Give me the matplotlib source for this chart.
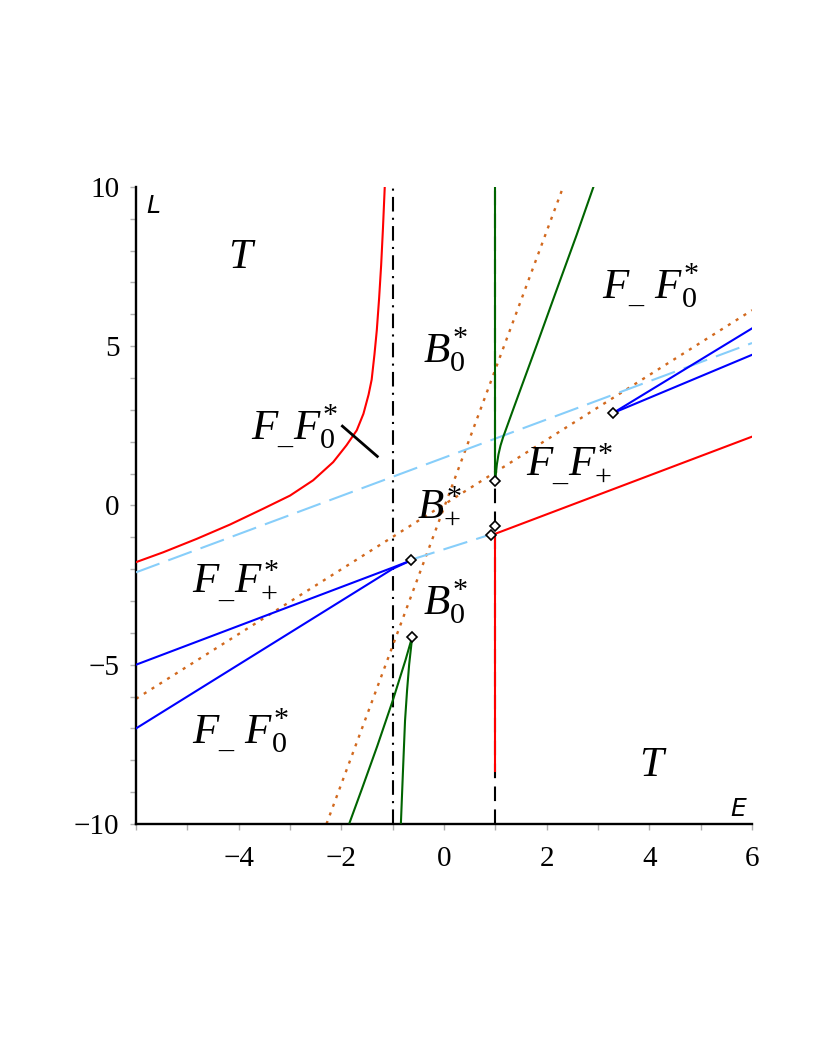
import matplotlib
matplotlib.use("Agg")
import matplotlib.pyplot as plt

plt.rcParams['mathtext.fontset'] = 'custom'
plt.rcParams['mathtext.rm'] = 'Liberation Serif'
plt.rcParams['mathtext.it'] = 'Liberation Serif:italic'
plt.rcParams['mathtext.bf'] = 'Liberation Serif:bold'

# ---------------- data ----------------
# red curve on the left (approaches E ~ -1.1)
red_left_E = [-6.0, -5.47, -4.82, -4.17, -3.52, -3.0, -2.55, -2.16, -1.90, -1.70, -1.57, -1.47,
              -1.41, -1.355, -1.31, -1.265, -1.225, -1.19, -1.155]
red_left_L = [-1.78, -1.47, -1.05, -0.60, -0.10, 0.31, 0.79, 1.36, 1.89, 2.36, 2.88, 3.48,
              3.95, 4.75, 5.5, 6.5, 7.55, 8.7, 10.0]
# red piece on the right (vertical part + slanted line)
red_vert_E = [1.0, 1.0]
red_vert_L = [-0.9, -8.33]
red_right_E = [0.98, 6.0]
red_right_L = [-0.9, 2.16]
# green curves
green_vert_E = [1.0, 1.0]
green_vert_L = [0.77, 10.0]
green_top_E = [1.0, 1.01, 1.03, 1.06, 1.1, 1.15, 1.22, 1.35, 1.47, 1.82, 2.16, 2.58, 2.91]
green_top_L = [0.77, 1.0, 1.3, 1.6, 1.88, 2.14, 2.45, 3.03, 3.56, 5.1, 6.62, 8.48, 10.0]
green_bl_E = [-0.62, -0.75, -1.0, -1.3, -1.6, -1.84]
green_bl_L = [-4.12, -4.85, -6.13, -7.55, -8.9, -9.96]
green_br_E = [-0.62, -0.68, -0.72, -0.76, -0.80, -0.84]
green_br_L = [-4.12, -5.0, -5.8, -6.76, -8.33, -9.96]
# blue lines
blue_l1_E = [-6.0, -1.0, -0.65]
blue_l1_L = [-5.0, -1.95, -1.73]
blue_l2_E = [-6.0, -1.0, -0.65]
blue_l2_L = [-7.0, -1.99, -1.73]
blue_r1_E = [3.29, 6.0]
blue_r1_L = [2.9, 5.56]
blue_r2_E = [3.29, 6.0]
blue_r2_L = [2.9, 4.73]
# light blue dashed lines
lb_up_E = [-6.0, 6.0]
lb_up_L = [-2.1, 5.1]
lb_lo_E = [-0.65, 0.93]
lb_lo_L = [-1.71, -0.9]
# orange dotted lines
or_sh_E = [-6.0, 6.0]
or_sh_L = [-6.07, 6.13]
or_st_E = [-2.29, 2.32]
or_st_L = [-10.0, 10.0]
# black vertical lines
vdashdot_E = [-1.0, -1.0]
vdashdot_L = [-10.0, 10.0]
vdash_E = [1.0, 1.0]
vdash_L = [-10.0, 10.0]
# pointer segment
ptr_E = [-1.98, -1.3]
ptr_L = [2.49, 1.54]
# diamond points
pts_E = [1.0, 0.91, 0.99, -0.65, -0.62, 3.29]
pts_L = [-0.63, -0.92, 0.77, -1.71, -4.12, 2.9]

# region labels
labels = [r'$T$', r'$B_{\mathit{0}}^{*}$', r'$F_{\_}\ F_{\mathit{0}}^{*}$', r'$F_{\_}F_{\mathit{0}}^{*}$',
          r'$B_{+}^{*}$', r'$F_{\_}F_{+}^{*}$', r'$F_{\_}F_{+}^{*}$', r'$B_{\mathit{0}}^{*}$',
          r'$F_{\_}\ F_{\mathit{0}}^{*}$', r'$T$']
label_E = [-4.21, -0.41, 3.08, -3.76, -0.53, 1.6, -4.91, -0.41, -4.91, 3.8]
label_L = [7.45, 4.5, 6.51, 2.08, -0.35, 0.91, -2.74, -3.43, -7.48, -8.49]

xticks_major = [-4, -2, 0, 2, 4, 6]
xtick_labels = ['\u22124', '\u22122', '0', '2', '4', '6']
yticks_major = [-10, -5, 0, 5, 10]
ytick_labels = ['\u221210', '\u22125', '0', '5', '10']

# ---------------- plotting ----------------
fig = plt.figure(figsize=(8.22, 10.64), dpi=100)
ax = fig.add_axes([0.1655, 0.2256, 0.7494, 0.5987])
ax.set_xlim(-6, 6)
ax.set_ylim(-10, 10)

lw = 1.5
ax.plot(vdashdot_E, vdashdot_L, color='black', lw=lw, linestyle=(0, (7, 3, 1, 3)), zorder=2)
ax.plot(vdash_E, vdash_L, color='black', lw=lw, linestyle=(0, (7, 4)), zorder=2)

ax.plot(or_sh_E, or_sh_L, color='#d2691e', lw=1.7, linestyle=(0, (1.3, 2.6)), zorder=2)
ax.plot(or_st_E, or_st_L, color='#d2691e', lw=1.7, linestyle=(0, (1.3, 2.6)), zorder=2)

ax.plot(lb_up_E, lb_up_L, color='#87cefa', lw=lw, linestyle=(0, (12, 4.5)), zorder=3)
ax.plot(lb_lo_E, lb_lo_L, color='#87cefa', lw=lw, linestyle=(0, (12, 4.5)), zorder=3)

ax.plot(red_left_E, red_left_L, color='#ff0000', lw=lw, zorder=4)
ax.plot(red_vert_E, red_vert_L, color='#ff0000', lw=lw, zorder=4)
ax.plot(red_right_E, red_right_L, color='#ff0000', lw=lw, zorder=4)

for e, l in [(green_vert_E, green_vert_L), (green_top_E, green_top_L),
             (green_bl_E, green_bl_L), (green_br_E, green_br_L)]:
    ax.plot(e, l, color='#006400', lw=lw, zorder=4)

for e, l in [(blue_l1_E, blue_l1_L), (blue_l2_E, blue_l2_L),
             (blue_r1_E, blue_r1_L), (blue_r2_E, blue_r2_L)]:
    ax.plot(e, l, color='#0000ff', lw=lw, zorder=4)

ax.plot(ptr_E, ptr_L, color='black', lw=2.0, zorder=4)

ax.plot(pts_E, pts_L, linestyle='none', marker='D', markersize=5, markerfacecolor='white',
        markeredgecolor='black', markeredgewidth=1.2, zorder=6)

for txt, e, l in zip(labels, label_E, label_L):
    ax.text(e, l, txt, fontsize=31, ha='left', va='baseline', zorder=7)

# axis labels
ax.text(-5.79, 9.18, 'L', fontsize=18, family='DejaVu Sans', style='italic', ha='left', va='baseline')
ax.text(5.57, -9.75, 'E', fontsize=18, family='DejaVu Sans', style='italic', ha='left', va='baseline')

# spines / ticks
for s in ['top', 'right']:
    ax.spines[s].set_visible(False)
for s in ['left', 'bottom']:
    ax.spines[s].set_linewidth(1.7)
    ax.spines[s].set_color('black')

ax.set_xticks(xticks_major)
ax.set_xticklabels(xtick_labels)
ax.set_xticks(list(range(-6, 7)), minor=True)
ax.set_yticks(yticks_major)
ax.set_yticklabels(ytick_labels)
ax.set_yticks(list(range(-10, 11)), minor=True)
ax.tick_params(which='both', direction='out', length=4, width=1, color='#b0b0b0')
ax.tick_params(axis='x', pad=12)
ax.tick_params(axis='y', pad=8)
for t in ax.get_xticklabels() + ax.get_yticklabels():
    t.set_fontfamily('Liberation Serif')
    t.set_fontsize(21)

fig.savefig('out.png', dpi=100)
